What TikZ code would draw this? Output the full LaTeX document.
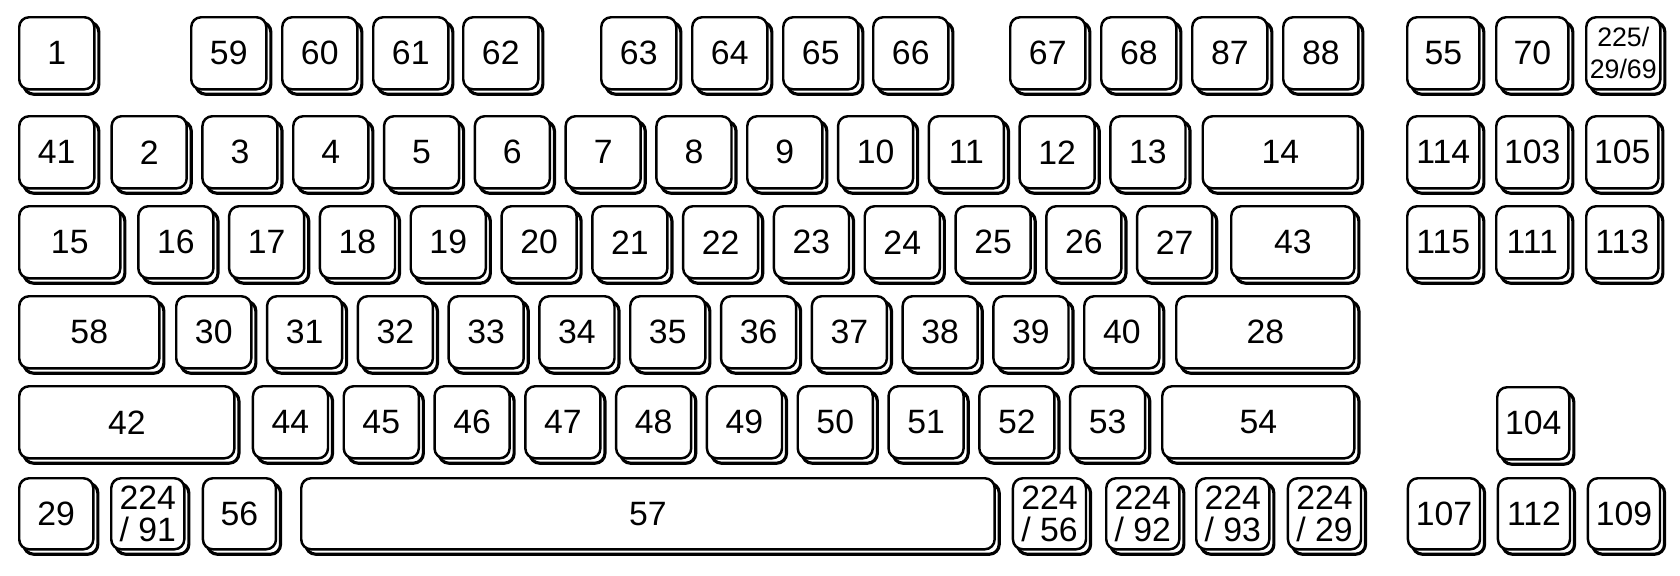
\documentclass[tikz,border=0pt]{standalone}
\usepackage{fontspec}
\setmainfont{Liberation Sans}
\usetikzlibrary{shadows}

\begin{document}
\begin{tikzpicture}[
    x = 0.01cm,
    y = -0.01cm,
    tecla/.style = {
        draw,
        line width     = 0.7pt,
        fill           = white,
        rounded corners = 2.8pt,
        anchor         = north west,
        inner sep      = 0pt,
        align          = center,
        minimum width  = 0.75cm,
        minimum height = 0.72cm,
        font           = \fontsize{9.6}{9.1}\selectfont,
        general shadow = {shadow xshift=1.3pt, shadow yshift=-1.4pt,
                          draw, line width=0.9pt, fill=white}
    },
    chica/.style = {
        font = \fontsize{7.6}{9.1}\selectfont
    }
]

\useasboundingbox (0,0) rectangle (1680,575);

% ================================================================
%  FILA 1 (Esc + F1..F12)  y = 16
% ================================================================

\node[tecla] (k1) at (18,16) {1};

\foreach \n/\x in {59/190, 60/281, 61/372, 62/462,
                   63/600, 64/691, 65/782, 66/872,
                   67/1009, 68/1100, 87/1191, 88/1282}{
    \node[tecla] (k\n) at (\x,16) {\n};
}

\node[tecla, minimum width=0.72cm] (k55)  at (1406,16) {55};
\node[tecla, minimum width=0.72cm] (k70)  at (1495,16) {70};
\node[tecla, minimum width=0.74cm, chica] (k225) at (1585,16) {225/\\29/69};

% ================================================================
%  FILA 2  y = 115
% ================================================================

\node[tecla] (k41) at (18,115) {41};

\foreach \n [count=\i from 0] in {2,...,13}{
    \node[tecla] (k\n) at ({110.4+\i*90.8},115) {\n};
}

\node[tecla, minimum width=1.55cm] (k14) at (1201.5,115) {14};

\foreach \n/\x in {114/1406, 103/1495, 105/1585}{
    \node[tecla, minimum width=0.72cm] (k\n) at (\x,115) {\n};
}

% ================================================================
%  FILA 3  y = 205
% ================================================================

\node[tecla, minimum width=1.01cm] (k15) at (18,205) {15};

\foreach \n [count=\i from 0] in {16,...,27}{
    \node[tecla] (k\n) at ({137.1+\i*90.8},205) {\n};
}

\node[tecla, minimum width=1.23cm] (k43) at (1230,205) {43};

\foreach \n/\x in {115/1406, 111/1495, 113/1585}{
    \node[tecla, minimum width=0.72cm] (k\n) at (\x,205) {\n};
}

% ================================================================
%  FILA 4  y = 295
% ================================================================

\node[tecla, minimum width=1.40cm] (k58) at (18,295) {58};

\foreach \n [count=\i from 0] in {30,...,40}{
    \node[tecla] (k\n) at ({175+\i*90.8},295) {\n};
}

\node[tecla, minimum width=1.78cm] (k28) at (1175,295) {28};

% ================================================================
%  FILA 5  y = 385
% ================================================================

\node[tecla, minimum width=2.15cm] (k42) at (18,385) {42};

\foreach \n [count=\i from 0] in {44,...,53}{
    \node[tecla] (k\n) at ({251.7+\i*90.8},385) {\n};
}

\node[tecla, minimum width=1.92cm] (k54) at (1161,385) {54};

\node[tecla, minimum width=0.72cm] (k104) at (1496,386) {104};

% ================================================================
%  FILA 6  y = 477
% ================================================================

\node[tecla, minimum width=0.74cm, minimum height=0.71cm] (k29)    at (18,477)    {29};
\node[tecla, minimum width=0.73cm, minimum height=0.71cm] (k22491) at (110,477)   {224\\/ 91};
\node[tecla, minimum width=0.73cm, minimum height=0.71cm] (k56)    at (201.7,477) {56};
\node[tecla, minimum width=6.93cm, minimum height=0.71cm] (k57)    at (300,477)   {57};

\foreach \n/\x in {56/1011.7, 92/1105, 93/1195, 29/1286.7}{
    \node[tecla, minimum width=0.73cm, minimum height=0.71cm] (k224\n) at (\x,477) {224\\/ \n};
}

\foreach \n/\x in {107/1406.7, 112/1496.7, 109/1586.7}{
    \node[tecla, minimum width=0.72cm, minimum height=0.71cm] (k\n) at (\x,477) {\n};
}

\end{tikzpicture}
\end{document}
